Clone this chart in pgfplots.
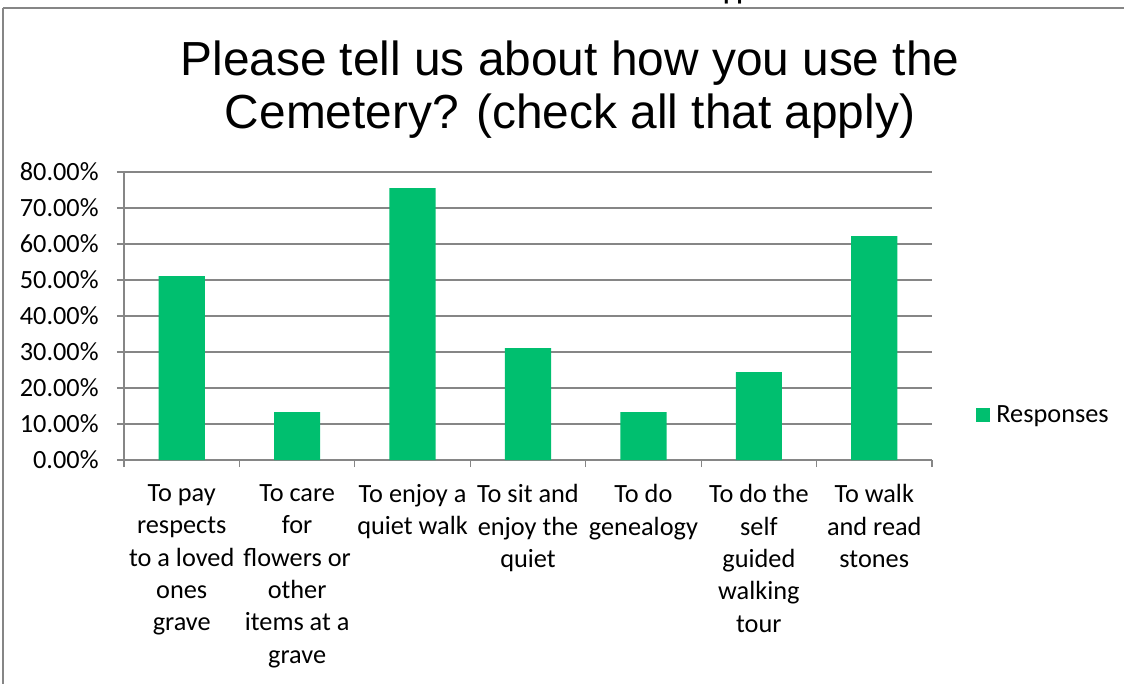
\documentclass[border=0pt]{standalone}
\usepackage{fontspec}
\setmainfont{Carlito}
\newfontfamily\titlefont{Liberation Sans}
\usepackage{pgfplots}
\pgfplotsset{compat=1.18}
\definecolor{barg}{HTML}{00BF6F}
\definecolor{axg}{HTML}{868686}
\begin{document}
\begin{tikzpicture}[x=1bp,y=1bp]
\begin{axis}[
  anchor=south west,
  scale only axis, width=404bp, height=144bp,
  xmin=-0.5, xmax=6.5, ymin=0, ymax=80,
  axis x line*=bottom, axis y line*=left,
  axis line style={axg, line width=0.7bp, -},
  ymajorgrids, grid style={axg, line width=0.6bp},
  tick align=outside, major tick length=3.5bp,
  tick style={axg, line width=0.6bp},
  ytick={0,10,20,30,40,50,60,70,80},
  yticklabels={0.00\%,10.00\%,20.00\%,30.00\%,40.00\%,50.00\%,60.00\%,70.00\%,80.00\%},
  yticklabel style={anchor=east, inner sep=0pt, xshift=-9bp},
  xtick={-0.5,0.5,1.5,2.5,3.5,4.5,5.5,6.5},
  xticklabels={,,,,,,,},
  extra x ticks={0,1,2,3,4,5,6},
  extra x tick labels={
    {To pay\\respects\\to a loved\\ones\\grave},
    {To care\\for\\flowers or\\other\\items at a\\grave},
    {To enjoy a\\quiet walk},
    {To sit and\\enjoy the\\quiet},
    {To do\\genealogy},
    {To do the\\self\\guided\\walking\\tour},
    {To walk\\and read\\stones}},
  extra x tick style={tick style={draw=none}},
  x tick label style={align=center, anchor=north, inner sep=0pt, yshift=-8.5bp},
  tick label style={font=\fontsize{13.2}{16.25}\selectfont, text=black},
  legend style={at={(1,0.156)}, anchor=west, xshift=22bp, draw=none, fill=none,
    inner sep=0pt, font=\fontsize{13.2}{16.25}\selectfont,
    nodes={inner xsep=3bp}},
  legend image code/.code={\fill[#1] (0bp,-3.5bp) rectangle (7bp,3.5bp);},
]
\addplot[ybar, bar width=23.1bp, fill=barg, draw=none]
  coordinates {(0,51.11) (1,13.33) (2,75.56) (3,31.11) (4,13.33) (5,24.44) (6,62.22)};
\addlegendentry{Responses}
\end{axis}
% everything else relative to the axis origin (62bp,111.5bp of the page)
\begin{scope}[shift={(-62,-111.5)}]
  \draw[axg,line width=1bp] (1.5,-5) -- (1.5,337.5);
  \draw[axg,line width=1bp] (1.5,337.5) -- (570,337.5);
  \begin{scope}
    \clip (0,337.6) rectangle (562,341.5);
    \node[anchor=base west,inner sep=0,font=\titlefont\bfseries\fontsize{11}{13}\selectfont] at (345,342) {Skipped};
  \end{scope}
  \node[anchor=base,inner sep=0,font=\titlefont\fontsize{24}{27}\selectfont] at (285,304) {Please tell us about how you use the};
  \node[anchor=base,inner sep=0,font=\titlefont\fontsize{24}{27}\selectfont] at (285,277.5) {Cemetery? (check all that apply)};
  \pgfresetboundingbox
  \useasboundingbox (0,0) rectangle (562,341.5);
\end{scope}
\end{tikzpicture}
\end{document}
